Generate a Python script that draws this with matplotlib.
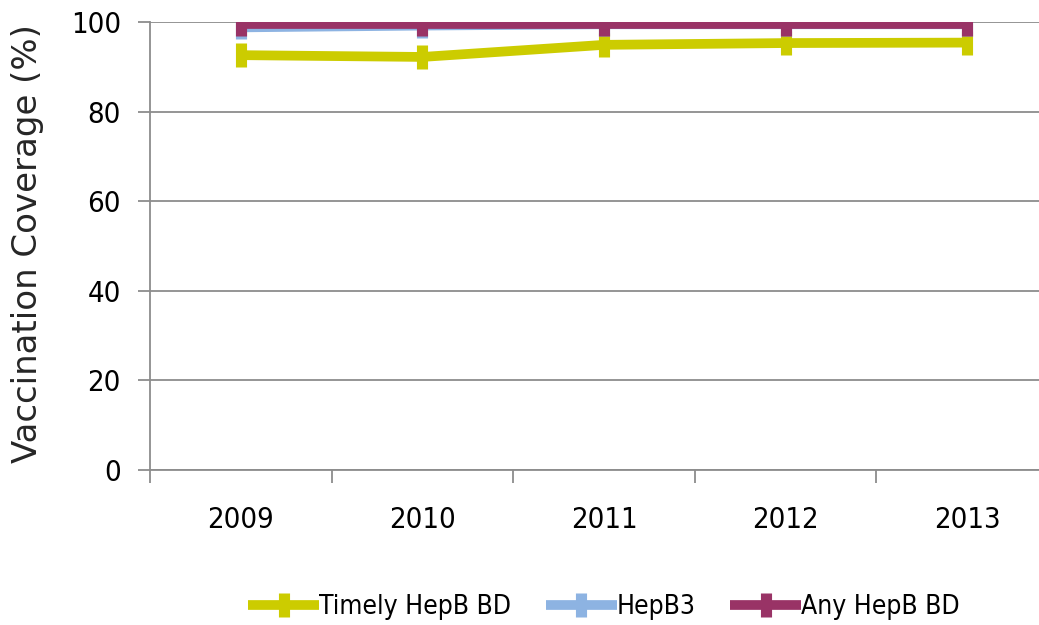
"""
HepB vaccination coverage by year, 2009-2013.
"""

import matplotlib
matplotlib.use("Agg")
import matplotlib.pyplot as plt
from matplotlib.font_manager import FontProperties
from matplotlib.ticker import FixedLocator

years = ["2009", "2010", "2011", "2012", "2013"]
timely_bd = [92.6, 92.2, 94.9, 95.3, 95.4]
hepb3 = [98.8, 99.2, 99.5, 99.5, 99.5]
any_bd = [99.5, 99.5, 99.5, 99.5, 99.5]

series = [
    ("Timely HepB BD", timely_bd, "#cccc00"),
    ("HepB3", hepb3, "#8db3e2"),
    ("Any HepB BD", any_bd, "#993366"),
]


def narrow_font(size):
    return FontProperties(family="DejaVu Sans", stretch="condensed", size=size)


def main():
    fig = plt.figure(figsize=(10.39, 6.25), dpi=100)
    ax = fig.add_axes([150 / 1039, 1 - 470 / 625, 908 / 1039, 448 / 625])

    x = list(range(len(years)))
    for label, vals, color in series:
        ax.plot(x, vals, color=color, lw=7, marker="|", ms=17, mew=8,
                solid_capstyle="butt", label=label, zorder=3)

    ax.set_xlim(-0.5, len(years) - 0.5)
    ax.set_ylim(0, 100)
    ax.set_yticks([0, 20, 40, 60, 80, 100])
    ax.grid(axis="y", color="#8c8c8c", lw=1.3)
    ax.set_axisbelow(True)

    ax.xaxis.set_major_locator(FixedLocator([i - 0.5 for i in range(len(years) + 1)]))
    ax.xaxis.set_minor_locator(FixedLocator(x))
    ax.set_xticklabels([])
    ax.set_xticklabels(years, minor=True)
    ax.tick_params(axis="x", which="major", length=9, width=1.3, color="#8c8c8c")
    ax.tick_params(axis="x", which="minor", length=0, pad=26)
    ax.tick_params(axis="y", length=9, width=1.3, color="#8c8c8c", pad=12)
    for lbl in ax.get_xticklabels(minor=True) + ax.get_yticklabels():
        lbl.set_fontproperties(narrow_font(21))

    for side in ["top", "right"]:
        ax.spines[side].set_visible(False)
    for side in ["left", "bottom"]:
        ax.spines[side].set_color("#8c8c8c")
        ax.spines[side].set_linewidth(1.3)

    ax.set_ylabel("Vaccination Coverage (%)", fontsize=24.5, family=["DejaVu Sans"],
                  color="#262626")
    ax.yaxis.set_label_coords(-0.117, 0.505)

    fig.legend(loc="center", bbox_to_anchor=(604 / 1039, 1 - 607 / 625), ncol=3,
               frameon=False, handlelength=2.7, handletextpad=0.0, columnspacing=1.3,
               prop=narrow_font(19))

    fig.savefig("out.png", dpi=100)
    plt.close(fig)


if __name__ == "__main__":
    main()
